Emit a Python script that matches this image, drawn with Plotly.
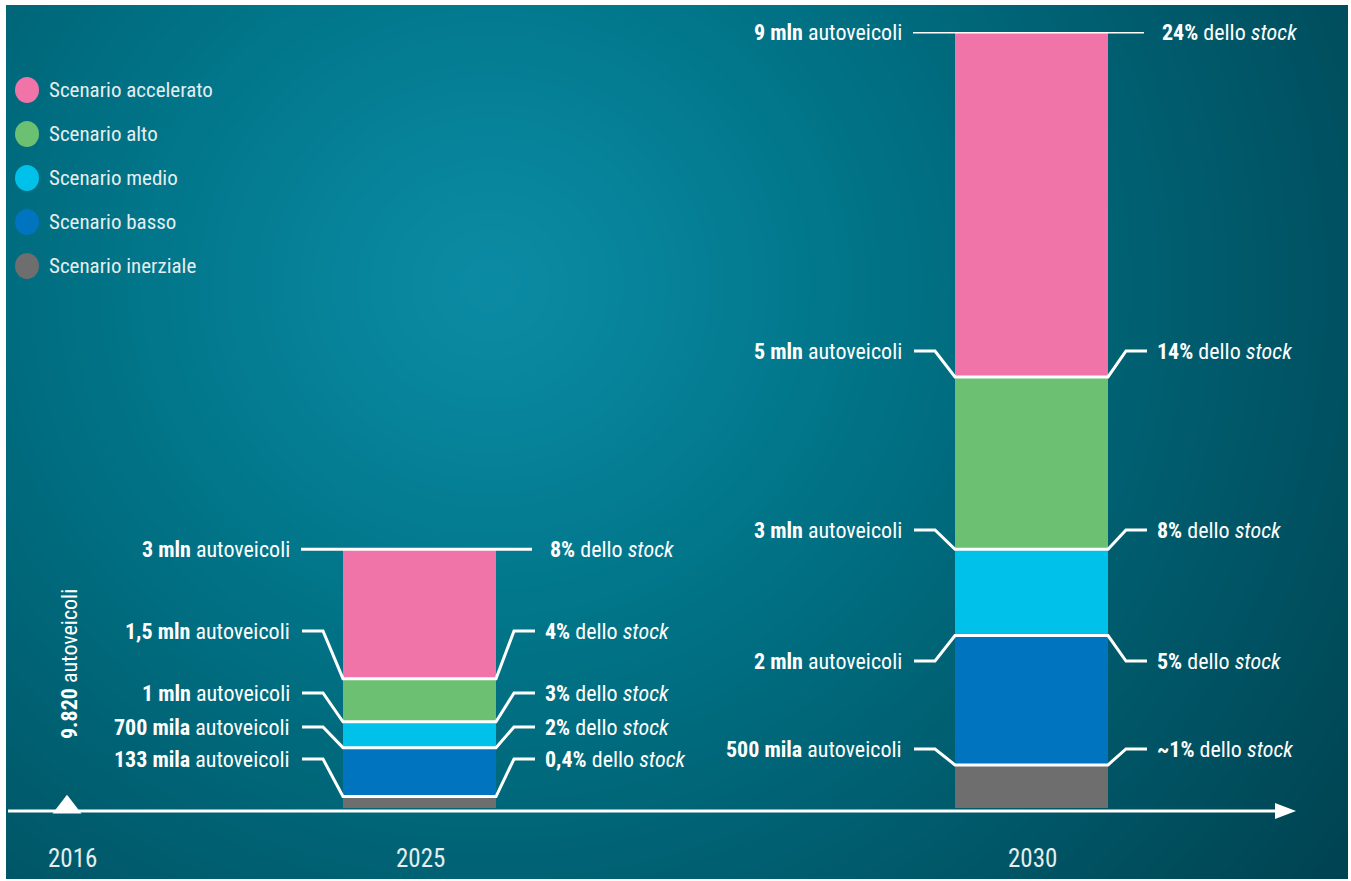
import base64
import struct
import zlib

import numpy as np
import plotly.graph_objects as go

# ---------------- data ----------------
years = ["2016", "2025", "2030"]
scenarios = ["Scenario accelerato", "Scenario alto", "Scenario medio",
             "Scenario basso", "Scenario inerziale"]
colors = ["#f074a8", "#6cc071", "#00c1e9", "#0074bf", "#6e6e6e"]

# electric vehicles on the road, millions, one value per scenario
veh_2025 = [3.0, 1.5, 1.0, 0.7, 0.133]
veh_2030 = [9.0, 5.0, 3.0, 2.0, 0.5]
veh_2016 = 9820  # vehicles

veh_text_2025 = ["3 mln", "1,5 mln", "1 mln", "700 mila", "133 mila"]
stock_text_2025 = ["8%", "4%", "3%", "2%", "0,4%"]
veh_text_2030 = ["9 mln", "5 mln", "3 mln", "2 mln", "500 mila"]
stock_text_2030 = ["24%", "14%", "8%", "5%", "~1%"]
text_2016 = "9.820"

# ---------------- layout constants (pixels) ----------------
W, H = 1351, 881
TOP, ZERO = 32, 808          # pixel rows of the y-axis maximum and of zero
PLOT_H = ZERO - TOP
YMAX = max(veh_2030)
x_year = {"2016": 67, "2025": 419.5, "2030": 1031.5}
BAR_W = 153
# vertical positions of the side labels (None = level with the bar top)
label_rows = {"2025": [None, 631, 693, 727, 759],
              "2030": [None, 351, 530, 661, 749]}

FONT = "Liberation Sans Narrow, Roboto Condensed, Arial Narrow, Roboto, sans-serif"
WHITE = "#ffffff"
SOFT = "#e4eef0"
LABEL_SIZE = 22


def px_to_y(py):
    return (ZERO - py) / PLOT_H * YMAX


def px_to_paper(py):
    return (ZERO - py) / PLOT_H


# ---------------- background: radial teal gradient as a PNG ----------------
def gradient_png(w, h, scale):
    ys, xs = np.mgrid[0:h, 0:w].astype(float)
    xs = (xs + 0.5) * scale + 6
    ys = (ys + 0.5) * scale + 5
    d = np.sqrt((xs - 490) ** 2 + ((ys - 285) / 0.95) ** 2)
    stops_d = [0, 120, 350, 600, 850, 1100]
    stops = [(12, 140, 164), (8, 134, 158), (2, 118, 138),
             (0, 100, 118), (0, 82, 98), (0, 64, 78)]
    img = np.zeros((h, w, 3), dtype=np.uint8)
    for c in range(3):
        img[..., c] = np.clip(np.interp(d, stops_d, [s[c] for s in stops]), 0, 255)
    raw = b"".join(b"\x00" + img[r].tobytes() for r in range(h))

    def chunk(tag, data):
        body = tag + data
        return struct.pack(">I", len(data)) + body + struct.pack(">I", zlib.crc32(body) & 0xFFFFFFFF)

    png = b"\x89PNG\r\n\x1a\n"
    png += chunk(b"IHDR", struct.pack(">IIBBBBB", w, h, 8, 2, 0, 0, 0))
    png += chunk(b"IDAT", zlib.compress(raw, 9))
    png += chunk(b"IEND", b"")
    return "data:image/png;base64," + base64.b64encode(png).decode()


bg_w, bg_h = 1348 - 6, 879 - 5
bg_src = gradient_png(bg_w // 2, bg_h // 2, 2)

fig = go.Figure()

# ---------------- bars: each scenario total, largest drawn first ----------------
for i, name in enumerate(scenarios):
    fig.add_trace(go.Bar(
        x=[x_year["2025"], x_year["2030"]],
        y=[veh_2025[i], veh_2030[i]],
        width=BAR_W,
        marker=dict(color=colors[i], line=dict(width=0)),
        name=name, showlegend=False, hoverinfo="skip",
    ))

# ---------------- leader lines and side labels ----------------
annotations = []


def add_labels(year, values, left_txt, right_txt):
    xc = x_year[year]
    bl, br = xc - BAR_W / 2, xc + BAR_W / 2
    for i, v in enumerate(values):
        yb = v
        row = label_rows[year][i]
        yl = yb if row is None else px_to_y(row)
        if row is None:
            xs = [bl - 42, br + 36]
            ys = [yb, yb]
        else:
            xs = [bl - 41, bl - 20, bl, br, br + 18, br + 39]
            ys = [yl, yl, yb, yb, yl, yl]
        fig.add_trace(go.Scatter(
            x=xs, y=ys, mode="lines",
            line=dict(color=WHITE, width=3), showlegend=False, hoverinfo="skip",
        ))
        annotations.append(dict(
            x=bl - 51, y=yl, xref="x", yref="y", xanchor="right", yanchor="middle",
            text=f"<b>{left_txt[i]}</b> autoveicoli", showarrow=False,
            font=dict(family=FONT, size=LABEL_SIZE, color=WHITE),
        ))
        annotations.append(dict(
            x=br + (52 if row is None else 47), y=yl, xref="x", yref="y",
            xanchor="left", yanchor="middle",
            text=f"<b>{right_txt[i]}</b> dello <i>stock</i>", showarrow=False,
            font=dict(family=FONT, size=LABEL_SIZE, color=WHITE),
        ))


add_labels("2025", veh_2025, veh_text_2025, stock_text_2025)
add_labels("2030", veh_2030, veh_text_2030, stock_text_2030)

# ---------------- 2016 marker ----------------
fig.add_trace(go.Scatter(
    x=[x_year["2016"]], y=[veh_2016 / 1e6], mode="markers",
    marker=dict(symbol="triangle-up", size=25, color=WHITE, line=dict(width=0)),
    showlegend=False, hoverinfo="skip", cliponaxis=False,
))
annotations.append(dict(
    x=x_year["2016"] + 2, y=px_to_y(664), xref="x", yref="y",
    xanchor="center", yanchor="middle", textangle=-90,
    text=f"<b>{text_2016}</b> autoveicoli", showarrow=False,
    font=dict(family=FONT, size=LABEL_SIZE, color=WHITE),
))

# ---------------- year labels ----------------
year_x = {"2016": 72, "2025": 420, "2030": 1032}
for yr in years:
    annotations.append(dict(
        x=year_x[yr], y=px_to_paper(858), xref="x", yref="paper",
        xanchor="center", yanchor="middle", text=yr, showarrow=False,
        font=dict(family=FONT, size=25, color=SOFT),
    ))

# ---------------- legend ----------------
shapes = []
leg_rows = [90, 134, 178, 222, 266]
for i, name in enumerate(scenarios):
    r = leg_rows[i]
    shapes.append(dict(
        type="circle", xref="x", yref="paper",
        x0=15, x1=39, y0=px_to_paper(r + 13), y1=px_to_paper(r - 13),
        fillcolor=colors[i], line=dict(width=0), layer="above",
    ))
    annotations.append(dict(
        x=47, y=px_to_paper(r), xref="x", yref="paper",
        xanchor="left", yanchor="middle", text=name, showarrow=False,
        font=dict(family=FONT, size=21, color=SOFT),
    ))

# ---------------- time axis with arrow ----------------
shapes.append(dict(
    type="line", xref="x", yref="paper",
    x0=8, x1=1280, y0=px_to_paper(811), y1=px_to_paper(811),
    line=dict(color=WHITE, width=3), layer="above",
))
shapes.append(dict(
    type="path", xref="x", yref="paper",
    path=(f"M 1275 {px_to_paper(803)} L 1296 {px_to_paper(811)} "
          f"L 1275 {px_to_paper(819)} Z"),
    fillcolor=WHITE, line=dict(width=0), layer="above",
))

fig.update_layout(
    width=W, height=H,
    margin=dict(l=0, r=0, t=TOP, b=H - ZERO),
    paper_bgcolor="#ffffff", plot_bgcolor="rgba(0,0,0,0)",
    barmode="overlay",
    xaxis=dict(range=[0, W], visible=False, fixedrange=True),
    yaxis=dict(range=[0, YMAX], visible=False, fixedrange=True),
    annotations=annotations, shapes=shapes,
    images=[dict(
        source=bg_src, xref="x", yref="paper",
        x=6, y=px_to_paper(5), sizex=bg_w, sizey=bg_h / PLOT_H,
        xanchor="left", yanchor="top", sizing="stretch", layer="below",
    )],
    showlegend=False,
)

fig.write_html("out.html")
